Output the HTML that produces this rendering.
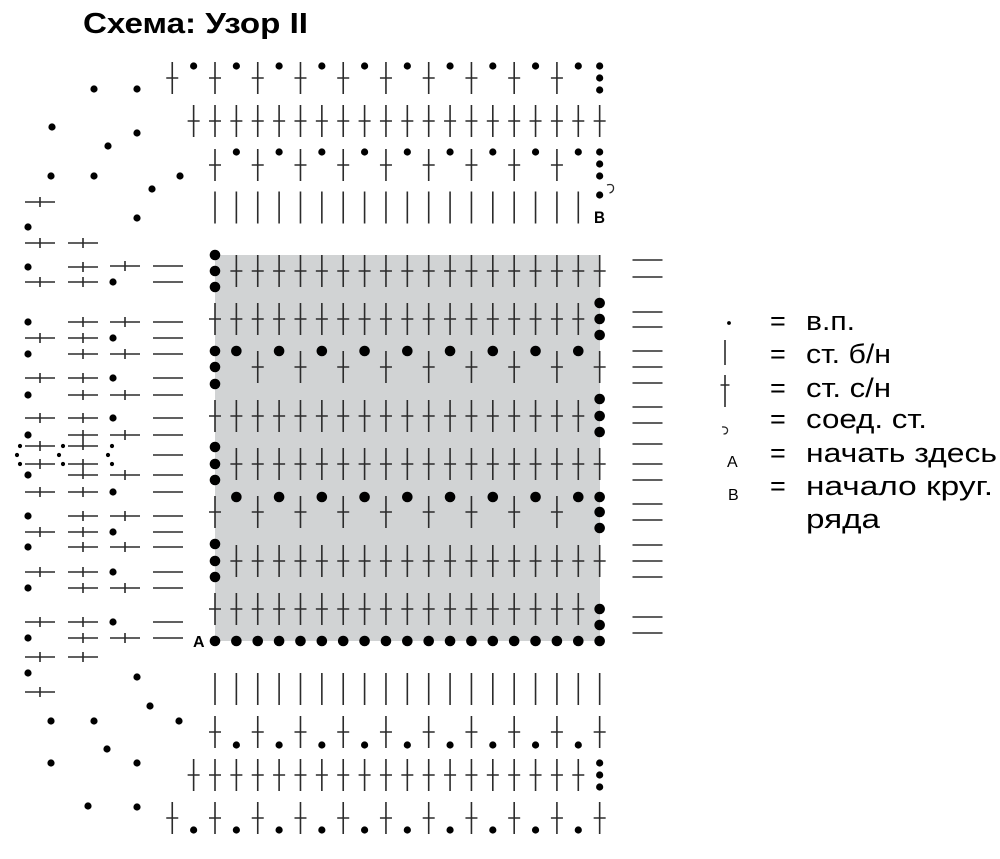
<!DOCTYPE html>
<html>
<head>
<meta charset="utf-8">
<style>
html,body{margin:0;padding:0;background:#fff;width:1000px;height:859px;overflow:hidden}
svg{display:block}
text{font-family:"Liberation Sans","DejaVu Sans",sans-serif;fill:#000}
</style>
</head>
<body>
<svg width="1000" height="859" viewBox="0 0 1000 859" xmlns="http://www.w3.org/2000/svg">
<defs>
<path id="x" d="M0-16V16M-6 0H6"/>
<path id="v" d="M0-16V16"/>
<path id="h" d="M-15 0H15M0-5V5"/>
<path id="l" d="M-15 0H15"/>
<circle id="d" r="3.6"/>
<circle id="D" r="5.3"/>
<circle id="t" r="2.1"/>
<g id="X9"><use href="#x"/><use href="#x" x="42.74"/><use href="#x" x="85.48"/><use href="#x" x="128.22"/><use href="#x" x="170.96"/><use href="#x" x="213.7"/><use href="#x" x="256.44"/><use href="#x" x="299.18"/><use href="#x" x="341.92"/></g>
<g id="X18"><use href="#x"/><use href="#x" x="21.37"/><use href="#x" x="42.74"/><use href="#x" x="64.11"/><use href="#x" x="85.48"/><use href="#x" x="106.85"/><use href="#x" x="128.22"/><use href="#x" x="149.59"/><use href="#x" x="170.96"/><use href="#x" x="192.33"/><use href="#x" x="213.7"/><use href="#x" x="235.07"/><use href="#x" x="256.44"/><use href="#x" x="277.81"/><use href="#x" x="299.18"/><use href="#x" x="320.55"/><use href="#x" x="341.92"/><use href="#x" x="363.29"/></g>
<g id="V18"><use href="#v"/><use href="#v" x="21.37"/><use href="#v" x="42.74"/><use href="#v" x="64.11"/><use href="#v" x="85.48"/><use href="#v" x="106.85"/><use href="#v" x="128.22"/><use href="#v" x="149.59"/><use href="#v" x="170.96"/><use href="#v" x="192.33"/><use href="#v" x="213.7"/><use href="#v" x="235.07"/><use href="#v" x="256.44"/><use href="#v" x="277.81"/><use href="#v" x="299.18"/><use href="#v" x="320.55"/><use href="#v" x="341.92"/><use href="#v" x="363.29"/></g>
<g id="d9"><use href="#d"/><use href="#d" x="42.74"/><use href="#d" x="85.48"/><use href="#d" x="128.22"/><use href="#d" x="170.96"/><use href="#d" x="213.7"/><use href="#d" x="256.44"/><use href="#d" x="299.18"/><use href="#d" x="341.92"/></g>
<g id="D9"><use href="#D"/><use href="#D" x="42.74"/><use href="#D" x="85.48"/><use href="#D" x="128.22"/><use href="#D" x="170.96"/><use href="#D" x="213.7"/><use href="#D" x="256.44"/><use href="#D" x="299.18"/><use href="#D" x="341.92"/></g>
<g id="D19"><use href="#D"/><use href="#D" x="21.37"/><use href="#D" x="42.74"/><use href="#D" x="64.11"/><use href="#D" x="85.48"/><use href="#D" x="106.85"/><use href="#D" x="128.22"/><use href="#D" x="149.59"/><use href="#D" x="170.96"/><use href="#D" x="192.33"/><use href="#D" x="213.7"/><use href="#D" x="235.07"/><use href="#D" x="256.44"/><use href="#D" x="277.81"/><use href="#D" x="299.18"/><use href="#D" x="320.55"/><use href="#D" x="341.92"/><use href="#D" x="363.29"/><use href="#D" x="384.66"/></g>
</defs>

<rect x="0" y="0" width="1000" height="859" fill="#fff"/>
<text x="83" y="33" font-size="29" font-weight="bold" textLength="225" lengthAdjust="spacingAndGlyphs">Схема: Узор II</text>

<rect x="215" y="255" width="385" height="386" fill="#d1d3d4"/>

<g stroke="#2b2b2b" stroke-width="1.6" fill="none">
<!-- top rows -->
<use href="#X9" x="172.26" y="78"/><use href="#x" x="556.92" y="78"/>
<use href="#X18" x="193.63" y="121"/><use href="#x" x="578.29" y="121"/><use href="#x" x="599.66" y="121"/>
<use href="#X9" x="215" y="165"/>
<use href="#V18" x="215" y="207.5"/>
<!-- gray rows -->
<use href="#X18" x="236.37" y="271"/>
<use href="#X18" x="215" y="319"/>
<use href="#X9" x="257.74" y="367"/>
<use href="#X18" x="215" y="416"/>
<use href="#X18" x="236.37" y="464"/>
<use href="#X9" x="215" y="512"/>
<use href="#X18" x="236.37" y="561"/>
<use href="#X18" x="215" y="609"/>
<!-- bottom rows -->
<use href="#V18" x="215" y="689"/><use href="#v" x="599.66" y="689"/>
<use href="#X9" x="215" y="732"/><use href="#x" x="599.66" y="732"/>
<use href="#X18" x="193.63" y="775"/><use href="#x" x="578.29" y="775"/>
<use href="#X9" x="172.26" y="818"/><use href="#x" x="556.92" y="818"/><use href="#x" x="599.66" y="818"/>

<!-- right column lines -->
<use href="#l" x="647.5" y="260"/><use href="#l" x="647.5" y="277"/><use href="#l" x="647.5" y="312"/><use href="#l" x="647.5" y="327"/><use href="#l" x="647.5" y="351"/><use href="#l" x="647.5" y="367"/><use href="#l" x="647.5" y="383"/><use href="#l" x="647.5" y="407"/><use href="#l" x="647.5" y="423"/><use href="#l" x="647.5" y="444"/><use href="#l" x="647.5" y="464"/><use href="#l" x="647.5" y="480"/><use href="#l" x="647.5" y="504"/><use href="#l" x="647.5" y="520"/><use href="#l" x="647.5" y="545"/><use href="#l" x="647.5" y="561"/><use href="#l" x="647.5" y="577"/><use href="#l" x="647.5" y="617"/><use href="#l" x="647.5" y="633"/>

<!-- left region: column 1 -->
<use href="#h" x="40" y="202"/><use href="#h" x="40" y="243"/><use href="#h" x="40" y="282"/><use href="#h" x="40" y="338"/><use href="#h" x="40" y="378"/><use href="#h" x="40" y="418"/><use href="#h" x="40" y="446"/><use href="#h" x="40" y="464"/><use href="#h" x="40" y="492"/><use href="#h" x="40" y="532"/><use href="#h" x="40" y="572"/><use href="#h" x="40" y="622"/><use href="#h" x="40" y="657"/><use href="#h" x="40" y="692"/>
<!-- column 2 -->
<use href="#h" x="83" y="243"/><use href="#h" x="83" y="267"/><use href="#h" x="83" y="282"/><use href="#h" x="83" y="322"/><use href="#h" x="83" y="338"/><use href="#h" x="83" y="354"/><use href="#h" x="83" y="378"/><use href="#h" x="83" y="395"/><use href="#h" x="83" y="418"/><use href="#h" x="83" y="492"/><use href="#h" x="83" y="516"/><use href="#h" x="83" y="532"/><use href="#h" x="83" y="547"/><use href="#h" x="83" y="572"/><use href="#h" x="83" y="588"/><use href="#h" x="83" y="622"/><use href="#h" x="83" y="638"/><use href="#h" x="83" y="657"/>
<use href="#l" x="83" y="435"/><use href="#l" x="83" y="446"/><use href="#l" x="83" y="464"/><use href="#l" x="83" y="475"/>
<path d="M83 430V450M83 459V479"/>
<!-- column 3 -->
<use href="#h" x="125" y="266"/><use href="#h" x="125" y="322"/><use href="#h" x="125" y="354"/><use href="#h" x="125" y="395"/><use href="#h" x="125" y="435"/><use href="#h" x="125" y="475"/><use href="#h" x="125" y="516"/><use href="#h" x="125" y="547"/><use href="#h" x="125" y="588"/><use href="#h" x="125" y="638"/>
<!-- column 4 -->
<use href="#l" x="168" y="266"/><use href="#l" x="168" y="282"/><use href="#l" x="168" y="322"/><use href="#l" x="168" y="338"/><use href="#l" x="168" y="354"/><use href="#l" x="168" y="378"/><use href="#l" x="168" y="395"/><use href="#l" x="168" y="418"/><use href="#l" x="168" y="435"/><use href="#l" x="168" y="455"/><use href="#l" x="168" y="475"/><use href="#l" x="168" y="492"/><use href="#l" x="168" y="516"/><use href="#l" x="168" y="532"/><use href="#l" x="168" y="547"/><use href="#l" x="168" y="572"/><use href="#l" x="168" y="588"/><use href="#l" x="168" y="622"/><use href="#l" x="168" y="638"/>

<!-- slip stitch in chart -->
<path d="M607 185Q614 183 613.5 189Q613 192 609.5 193" stroke-width="1.3"/>

<!-- legend symbols -->
<path d="M725 340V365"/>
<path d="M725 375V407M720.5 385H729.5"/>
<path d="M722 427Q728 426.5 727.5 431Q727 434 723.5 434" stroke-width="1.3"/>
</g>

<g fill="#000" stroke="none">
<!-- top rows dots -->
<use href="#d9" x="193.63" y="66"/><use href="#d" x="578.29" y="66"/>
<use href="#d" x="599.66" y="66"/><use href="#d" x="599.66" y="78"/><use href="#d" x="599.66" y="90"/>
<use href="#d9" x="236.37" y="152"/>
<use href="#d" x="599.66" y="152"/><use href="#d" x="599.66" y="164"/><use href="#d" x="599.66" y="176"/><use href="#d" x="599.66" y="195"/>
<!-- gray dots -->
<use href="#D" x="215" y="255"/><use href="#D" x="215" y="271"/><use href="#D" x="215" y="287"/>
<use href="#D" x="599.66" y="303"/><use href="#D" x="599.66" y="319"/><use href="#D" x="599.66" y="335"/>
<use href="#D" x="215" y="351"/><use href="#D" x="215" y="367"/><use href="#D" x="215" y="384"/>
<use href="#D9" x="236.37" y="351"/>
<use href="#D" x="599.66" y="399"/><use href="#D" x="599.66" y="416"/><use href="#D" x="599.66" y="432"/>
<use href="#D" x="215" y="447"/><use href="#D" x="215" y="464"/><use href="#D" x="215" y="480"/>
<use href="#D9" x="236.37" y="497"/>
<use href="#D" x="599.66" y="497"/><use href="#D" x="599.66" y="512"/><use href="#D" x="599.66" y="528"/>
<use href="#D" x="215" y="544"/><use href="#D" x="215" y="561"/><use href="#D" x="215" y="577"/>
<use href="#D" x="599.66" y="609"/><use href="#D" x="599.66" y="625"/>
<use href="#D19" x="215" y="641"/>
<!-- bottom dots -->
<use href="#d9" x="236.37" y="745"/>
<use href="#d" x="599.66" y="763"/><use href="#d" x="599.66" y="775"/><use href="#d" x="599.66" y="787"/>
<use href="#d9" x="193.63" y="830"/><use href="#d" x="578.29" y="830"/>
<!-- left region dots -->
<use href="#d" x="94" y="89"/><use href="#d" x="137" y="89"/><use href="#d" x="52" y="127"/><use href="#d" x="137" y="133"/><use href="#d" x="108" y="146"/><use href="#d" x="51" y="176"/><use href="#d" x="94" y="176"/><use href="#d" x="180" y="176"/><use href="#d" x="152" y="189"/><use href="#d" x="137" y="218"/>
<use href="#d" x="28" y="227"/><use href="#d" x="28" y="267"/><use href="#d" x="113" y="282"/>
<use href="#d" x="28" y="322"/><use href="#d" x="113" y="338"/><use href="#d" x="28" y="354"/><use href="#d" x="113" y="378"/><use href="#d" x="28" y="395"/><use href="#d" x="113" y="418"/><use href="#d" x="28" y="435"/><use href="#d" x="28" y="475"/><use href="#d" x="113" y="492"/><use href="#d" x="28" y="516"/><use href="#d" x="113" y="532"/><use href="#d" x="28" y="547"/><use href="#d" x="113" y="572"/><use href="#d" x="28" y="588"/><use href="#d" x="113" y="622"/><use href="#d" x="28" y="638"/>
<use href="#d" x="28" y="673"/><use href="#d" x="137" y="677"/><use href="#d" x="150" y="706"/><use href="#d" x="51" y="721"/><use href="#d" x="94" y="721"/><use href="#d" x="179" y="721"/><use href="#d" x="107" y="749"/><use href="#d" x="51" y="763"/><use href="#d" x="137" y="763"/><use href="#d" x="88" y="806"/><use href="#d" x="137" y="807"/>
<!-- tiny dots -->
<use href="#t" x="20" y="446"/><use href="#t" x="63" y="446"/><use href="#t" x="112" y="446"/>
<use href="#t" x="17" y="455"/><use href="#t" x="59" y="455"/><use href="#t" x="108" y="455"/>
<use href="#t" x="20" y="464"/><use href="#t" x="63" y="464"/><use href="#t" x="112" y="464"/>
<!-- legend dot -->
<circle cx="729" cy="323" r="1.9"/>
</g>

<!-- chart labels -->
<text x="193" y="647" font-size="16" font-weight="bold">A</text>
<text x="594" y="223" font-size="17" font-weight="bold" textLength="11" lengthAdjust="spacingAndGlyphs">B</text>

<!-- legend -->
<g font-size="27">
<text x="770" y="330">=</text>
<text x="770" y="363">=</text>
<text x="770" y="397">=</text>
<text x="770" y="428">=</text>
<text x="770" y="462">=</text>
<text x="770" y="495">=</text>
<text x="806" y="330" textLength="49" lengthAdjust="spacingAndGlyphs">в.п.</text>
<text x="806" y="363" textLength="85" lengthAdjust="spacingAndGlyphs">ст. б/н</text>
<text x="806" y="397" textLength="85" lengthAdjust="spacingAndGlyphs">ст. с/н</text>
<text x="806" y="428" textLength="121" lengthAdjust="spacingAndGlyphs">соед. ст.</text>
<text x="806" y="462" textLength="191" lengthAdjust="spacingAndGlyphs">начать здесь</text>
<text x="806" y="495" textLength="187" lengthAdjust="spacingAndGlyphs">начало круг.</text>
<text x="806" y="528" textLength="74" lengthAdjust="spacingAndGlyphs">ряда</text>
</g>
<text x="727" y="467" font-size="16">A</text>
<text x="728" y="500" font-size="16">B</text>
</svg>
</body>
</html>
